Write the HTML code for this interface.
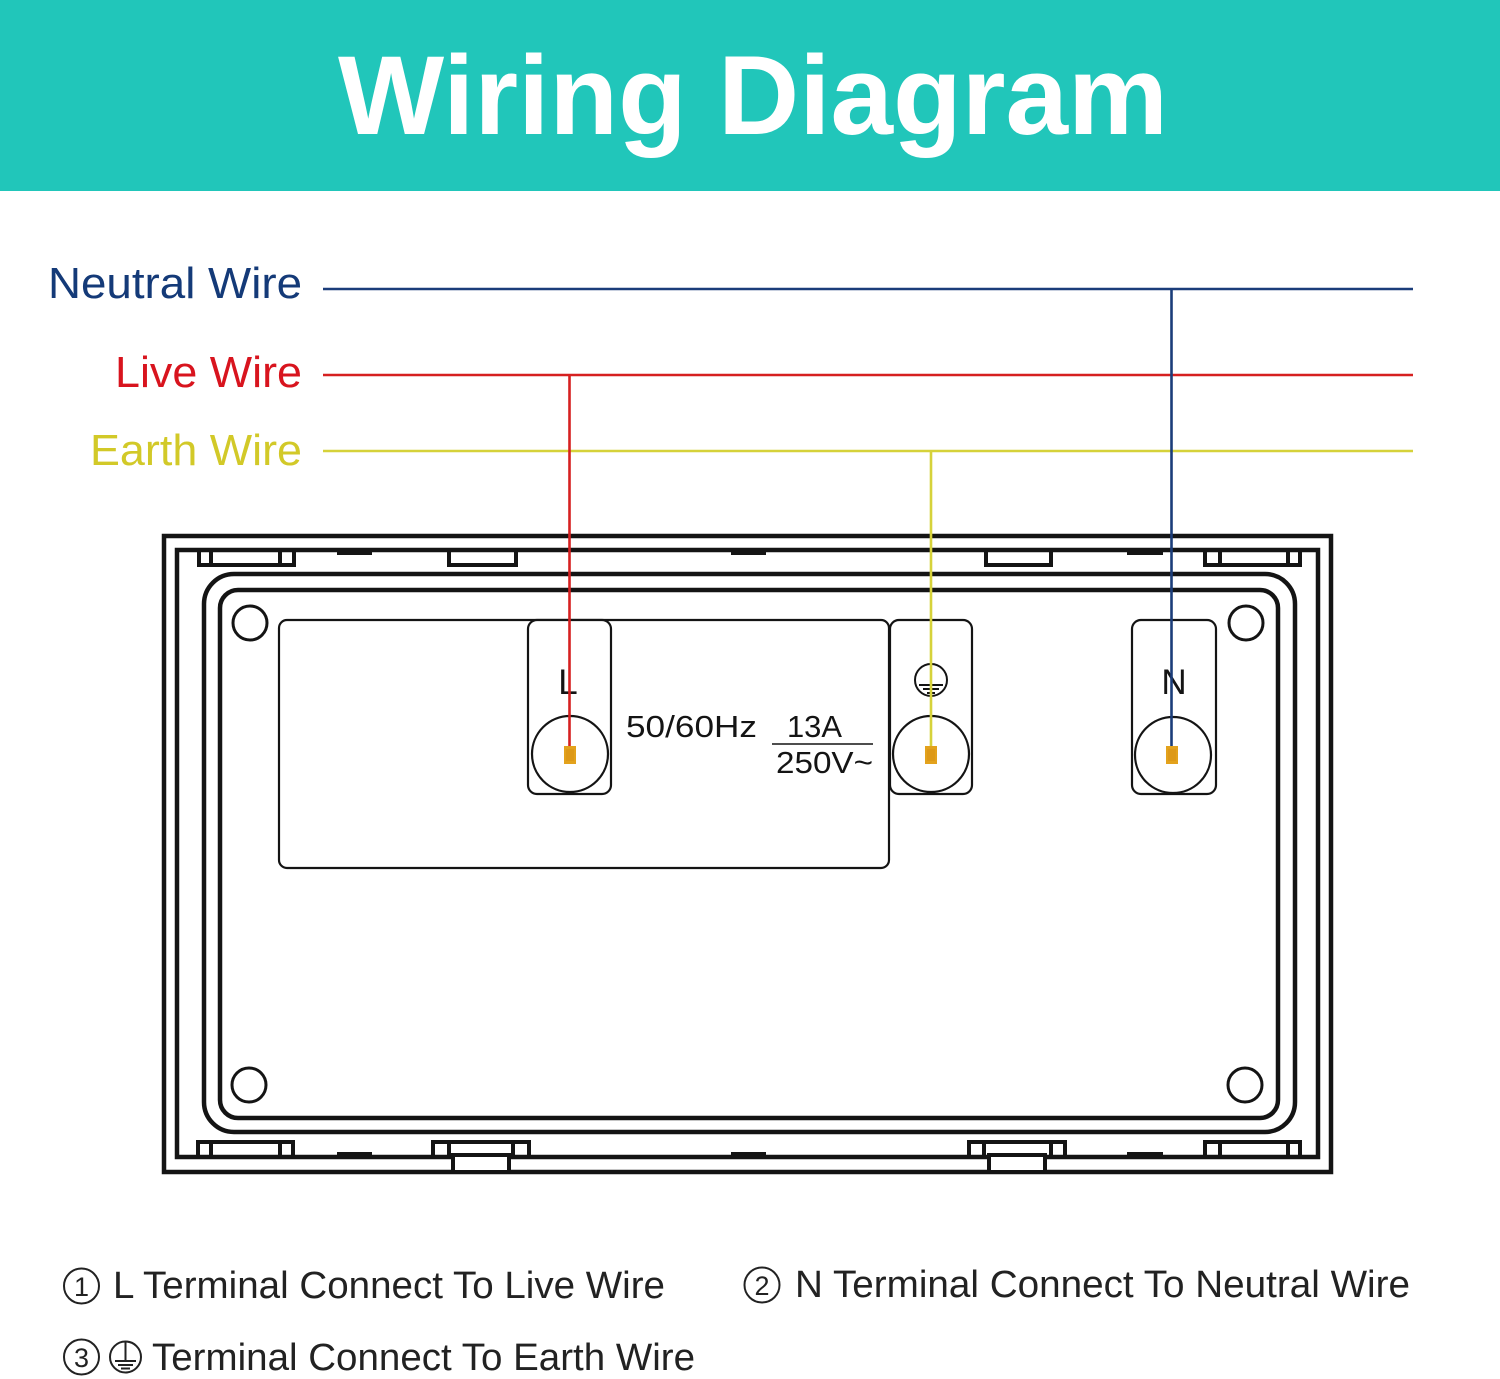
<!DOCTYPE html>
<html><head><meta charset="utf-8"><style>
html,body{margin:0;padding:0;background:#fff;}
svg{display:block;}
text{font-family:"Liberation Sans",Arial,sans-serif;}
</style></head><body>
<svg width="1500" height="1379" viewBox="0 0 1500 1379" xmlns="http://www.w3.org/2000/svg">
<rect x="0" y="0" width="1500" height="1379" fill="#fff"/>
<rect x="0" y="0" width="1500" height="191" fill="#21c6ba"/>
<text x="753" y="134" font-size="112" font-weight="bold" fill="#fff" text-anchor="middle" textLength="830" lengthAdjust="spacingAndGlyphs">Wiring Diagram</text>

<!-- wire labels -->
<text x="302" y="298" font-size="44" fill="#143a78" text-anchor="end" textLength="254" lengthAdjust="spacingAndGlyphs">Neutral Wire</text>
<text x="302" y="387" font-size="44" fill="#d8141e" text-anchor="end" textLength="187" lengthAdjust="spacingAndGlyphs">Live Wire</text>
<text x="302" y="465" font-size="44" fill="#d2c928" text-anchor="end" textLength="212" lengthAdjust="spacingAndGlyphs">Earth Wire</text>

<!-- frame -->
<g fill="none" stroke="#141414">
<rect x="164" y="536" width="1167" height="636" stroke-width="4.5"/>
<rect x="177" y="550" width="1141" height="607" stroke-width="4.5"/>
<rect x="204" y="574" width="1091" height="558" rx="30" stroke-width="4.5"/>
<rect x="220" y="590" width="1058" height="528" rx="18" stroke-width="4.5"/>
</g>
<!-- top clips -->
<g fill="none" stroke="#141414" stroke-width="4">
<rect x="199" y="550" width="95" height="15"/>
<line x1="211" y1="550" x2="211" y2="565"/>
<line x1="280" y1="550" x2="280" y2="565"/>
<rect x="449" y="550" width="67" height="15"/>
<rect x="986" y="550" width="65" height="15"/>
<rect x="1205" y="550" width="95" height="15"/>
<line x1="1220" y1="550" x2="1220" y2="565"/>
<line x1="1288" y1="550" x2="1288" y2="565"/>
</g>
<g fill="#141414">
<rect x="337" y="548" width="35" height="7"/>
<rect x="731" y="548" width="35" height="7"/>
<rect x="1127" y="548" width="36" height="7"/>
<rect x="337" y="1152" width="35" height="7"/>
<rect x="731" y="1152" width="35" height="7"/>
<rect x="1127" y="1152" width="36" height="7"/>
</g>
<!-- bottom clips -->
<g fill="none" stroke="#141414" stroke-width="4">
<rect x="198" y="1142" width="95" height="15"/>
<line x1="211" y1="1142" x2="211" y2="1157"/>
<line x1="280" y1="1142" x2="280" y2="1157"/>
<rect x="433" y="1142" width="96" height="15"/>
<line x1="449" y1="1142" x2="449" y2="1157"/>
<line x1="513" y1="1142" x2="513" y2="1157"/>
<rect x="969" y="1142" width="96" height="15"/>
<line x1="984" y1="1142" x2="984" y2="1157"/>
<line x1="1051" y1="1142" x2="1051" y2="1157"/>
<rect x="1205" y="1142" width="95" height="15"/>
<line x1="1220" y1="1142" x2="1220" y2="1157"/>
<line x1="1288" y1="1142" x2="1288" y2="1157"/>
<rect x="453" y="1155" width="56" height="17" fill="#fff"/>
<rect x="989" y="1155" width="56" height="17" fill="#fff"/>
</g>
<!-- screws -->
<g fill="none" stroke="#141414" stroke-width="3">
<circle cx="250" cy="623" r="17"/>
<circle cx="249" cy="1085" r="17"/>
<circle cx="1246" cy="623" r="17"/>
<circle cx="1245" cy="1085" r="17"/>
</g>
<!-- panel -->
<rect x="279" y="620" width="610" height="248" rx="8" fill="none" stroke="#141414" stroke-width="2.2"/>
<g fill="#fff" stroke="#141414" stroke-width="2.2">
<rect x="528" y="620" width="83" height="174" rx="9"/>
<rect x="890" y="620" width="82" height="174" rx="9"/>
<rect x="1132" y="620" width="84" height="174" rx="9"/>
<circle cx="570" cy="754" r="38"/>
<circle cx="931" cy="754" r="38"/>
<circle cx="1173" cy="755" r="38"/>
</g>
<text x="568" y="694" font-size="35" fill="#141414" text-anchor="middle">L</text>
<text x="1174" y="694" font-size="35" fill="#141414" text-anchor="middle">N</text>
<g fill="none" stroke="#141414" stroke-width="2">
<circle cx="931" cy="680" r="16"/>
<line x1="931" y1="664" x2="931" y2="685"/>
<line x1="919" y1="685" x2="943" y2="685"/>
<line x1="923" y1="689" x2="939" y2="689"/>
<line x1="927" y1="693" x2="935" y2="693"/>
</g>
<text x="626" y="737" font-size="31" fill="#141414" textLength="131" lengthAdjust="spacingAndGlyphs">50/60Hz</text>
<text x="787" y="737" font-size="31" fill="#141414" textLength="55" lengthAdjust="spacingAndGlyphs">13A</text>
<line x1="772" y1="744" x2="873" y2="744" stroke="#141414" stroke-width="1.5"/>
<text x="776" y="773" font-size="31" fill="#141414" textLength="97" lengthAdjust="spacingAndGlyphs">250V~</text>

<!-- wires -->
<g stroke-width="2.6" fill="none">
<line x1="323" y1="289" x2="1413" y2="289" stroke="#1b3d7a"/>
<line x1="323" y1="375" x2="1413" y2="375" stroke="#d62020"/>
<line x1="323" y1="451" x2="1413" y2="451" stroke="#d6d23a"/>
<line x1="569.5" y1="375" x2="569.5" y2="748" stroke="#d62020"/>
<line x1="931" y1="451" x2="931" y2="748" stroke="#d6d23a"/>
<line x1="1171.5" y1="289" x2="1171.5" y2="748" stroke="#1b3d7a"/>
</g>
<g>
<rect x="564" y="746" width="12" height="18" fill="#e3a21c"/>
<rect x="925" y="746" width="12" height="18" fill="#e3a21c"/>
<rect x="1166" y="746" width="12" height="18" fill="#e3a21c"/>
<rect x="566" y="749" width="8" height="12" fill="#d99316" opacity="0.6"/>
<rect x="927" y="749" width="8" height="12" fill="#d99316" opacity="0.6"/>
<rect x="1168" y="749" width="8" height="12" fill="#d99316" opacity="0.6"/>
</g>

<!-- legend -->
<g fill="none" stroke="#222" stroke-width="2">
<circle cx="81.5" cy="1286" r="17.5"/>
<circle cx="762" cy="1285" r="17.5"/>
<circle cx="81.5" cy="1357" r="17.5"/>
<circle cx="125.5" cy="1357" r="15.5"/>
<line x1="125.5" y1="1341.5" x2="125.5" y2="1361"/>
<line x1="115" y1="1361" x2="136" y2="1361"/>
<line x1="118" y1="1365" x2="133" y2="1365"/>
<line x1="121" y1="1368.5" x2="130" y2="1368.5"/>
</g>
<text x="81.5" y="1296" font-size="27" fill="#222" text-anchor="middle">1</text>
<text x="762" y="1295" font-size="27" fill="#222" text-anchor="middle">2</text>
<text x="81.5" y="1367" font-size="27" fill="#222" text-anchor="middle">3</text>
<text x="113" y="1298" font-size="38" fill="#222" textLength="552" lengthAdjust="spacingAndGlyphs">L Terminal Connect To Live Wire</text>
<text x="795" y="1297" font-size="38" fill="#222" textLength="615" lengthAdjust="spacingAndGlyphs">N Terminal Connect To Neutral Wire</text>
<text x="152" y="1370" font-size="38" fill="#222" textLength="543" lengthAdjust="spacingAndGlyphs">Terminal Connect To Earth Wire</text>
</svg>
</body></html>
